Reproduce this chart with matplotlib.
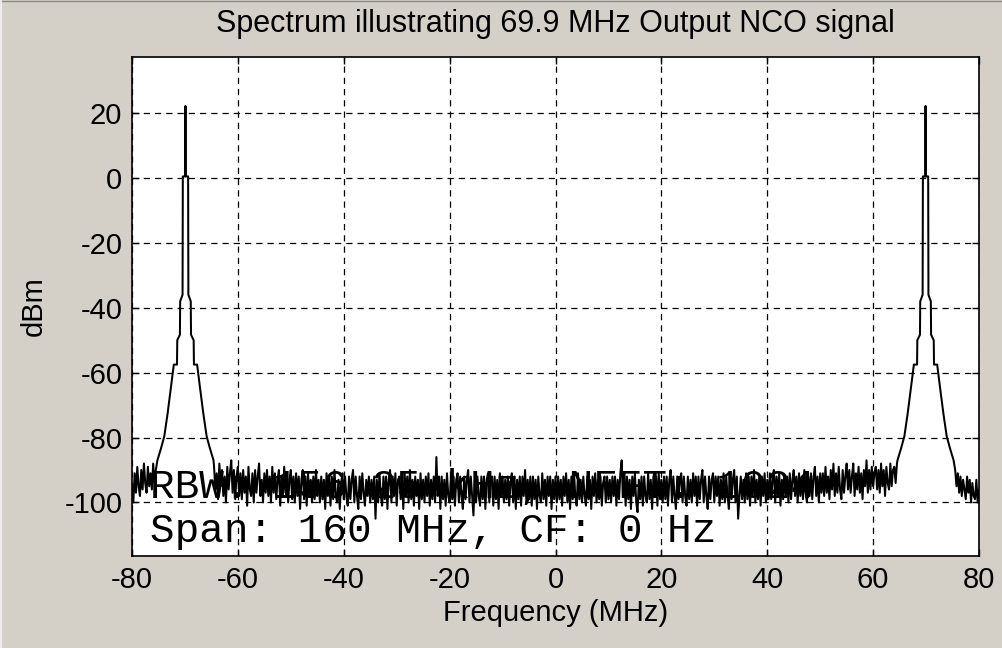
import numpy as np
import matplotlib
matplotlib.use('Agg')
import matplotlib.pyplot as plt
from matplotlib.lines import Line2D

# spectrum (dBm)
nco_freq = 69.9
peak_db = 22.2

# skirt of each tone: offset from tone (MHz, outer -> inner) and level (dBm)
skirt_off = [5.3, 4.6, 4.0, 3.4, 2.75, 2.2, 1.6, 1.55, 1.05, 1.0, 0.55, 0.5, 0.03]
skirt_db = [-87, -83.2, -79.6, -72.9, -64.7, -57.5, -57.5, -50, -48.3, -38, -36, 0.5, 0.5]

# noise floor left of the -69.9 MHz tone (-80 .. -75.5 MHz, 0.25 MHz steps)
noise_left = [-95, -100, -91, -97, -89, -95, -98, -90, -96, -88,
              -94, -97, -89, -95, -91, -96, -88, -94, -90]

# noise floor between the tones (-64.5 .. 64.5 MHz, 0.25 MHz steps)
noise_mid = [
    -89, -96, -91, -99, -88, -95, -90, -98, -92, -100, -89, -96, -91, -87, -97, -90, -99, -92, -89, -98,
    -91, -99, -90, -97, -92, -101, -89, -96, -98, -91, -100, -90, -97, -92, -88, -98, -93, -100, -91, -97,
    -90, -98, -92, -100, -89, -97, -91, -99, -93, -90, -101, -92, -98, -89, -97, -91, -100, -93, -90, -99,
    -92, -100, -91, -98, -92, -102, -93, -90, -99, -92, -101, -91, -98, -93, -100, -92, -99, -90, -98, -93,
    -100, -92, -99, -93, -102, -91, -98, -92, -101, -92, -99, -90, -98, -100, -93, -102, -94, -91, -99, -92,
    -98, -101, -92, -99, -93, -90, -100, -92, -98, -102, -92, -99, -91, -97, -101, -93, -98, -92, -100, -93,
    -99, -92, -105, -93, -100, -91, -98, -101, -92, -99, -92, -102, -93, -90, -100, -92, -98, -91, -101, -93,
    -92, -99, -93, -102, -91, -98, -92, -100, -90, -99, -93, -101, -92, -98, -93, -102, -91, -99, -93, -100,
    -92, -98, -91, -101, -93, -99, -92, -100, -86, -98, -92, -102, -92, -99, -93, -101, -91, -98, -100, -92,
    -99, -92, -101, -93, -91, -100, -92, -98, -102, -92, -99, -93, -90, -100, -92, -98, -104, -93, -100, -92,
    -98, -101, -92, -99, -92, -102, -93, -91, -100, -93, -92, -101, -92, -99, -93, -102, -91, -98, -92, -100,
    -93, -99, -92, -101, -94, -91, -100, -92, -102, -93, -99, -92, -101, -92, -98, -90, -100, -93, -99, -92,
    -101, -92, -99, -93, -102, -92, -98, -100, -91, -99, -93, -101, -92, -98, -92, -102, -93, -99, -92, -100,
    -92, -99, -93, -101, -92, -98, -91, -100, -93, -102, -92, -99, -92, -98, -101, -91, -99, -93, -100, -92,
    -98, -101, -92, -99, -93, -102, -92, -98, -91, -100, -93, -99, -92, -101, -94, -92, -100, -92, -99, -93,
    -100, -92, -98, -92, -101, -93, -99, -91, -87, -98, -92, -101, -92, -99, -93, -102, -92, -98, -91, -100,
    -103, -93, -99, -92, -101, -92, -98, -100, -91, -99, -93, -102, -92, -98, -92, -101, -91, -99, -93, -100,
    -92, -99, -92, -101, -93, -90, -100, -92, -98, -102, -92, -99, -93, -91, -100, -92, -98, -101, -92, -99,
    -93, -100, -91, -98, -92, -101, -92, -99, -93, -90, -100, -92, -98, -102, -92, -99, -93, -91, -100, -92,
    -98, -92, -101, -93, -99, -91, -100, -92, -98, -102, -92, -99, -93, -90, -100, -92, -105, -98, -92, -99,
    -93, -100, -91, -99, -92, -101, -92, -98, -90, -100, -93, -99, -92, -101, -92, -98, -91, -100, -93, -99,
    -91, -99, -93, -90, -100, -92, -98, -91, -101, -93, -99, -92, -98, -92, -100, -91, -99, -93, -90, -98,
    -92, -100, -91, -98, -92, -99, -90, -97, -100, -92, -98, -91, -99, -92, -89, -98, -92, -100, -91, -97,
    -91, -98, -89, -97, -92, -99, -90, -96, -88, -98, -91, -97, -89, -96, -99, -90, -97, -92, -88, -96,
    -90, -97, -92, -88, -98, -91, -96, -89, -97, -91, -99, -90, -95, -87, -97, -90, -96, -89, -95, -91,
    -89, -96, -90, -97, -88, -95, -90, -98, -89, -94, -96, -88, -95, -90, -89, -94, -88]

# noise floor right of the +69.9 MHz tone (75.5 .. 80 MHz, 0.25 MHz steps)
noise_right = [-90, -95, -91, -97, -92, -98, -93, -96, -99, -92,
               -97, -93, -100, -94, -98, -99, -93, -100, -96]

x_ticks = [-80, -60, -40, -20, 0, 20, 40, 60, 80]
y_ticks = [-100, -80, -60, -40, -20, 0, 20]

BG = '#d4d0c8'


def tone(center):
    off = np.array(skirt_off)
    f = np.concatenate([center - off, [center], center + off[::-1]])
    p = np.concatenate([skirt_db, [peak_db], skirt_db[::-1]])
    return f, p


f_l, p_l = tone(-nco_freq)
f_r, p_r = tone(nco_freq)
freq = np.concatenate([np.linspace(-80, -75.5, len(noise_left)), f_l,
                       np.linspace(-64.5, 64.5, len(noise_mid)), f_r,
                       np.linspace(75.5, 80, len(noise_right))])
power = np.concatenate([noise_left, p_l, noise_mid, p_r, noise_right])

plt.rcParams['font.family'] = ['Liberation Sans', 'DejaVu Sans']
plt.rcParams['axes.unicode_minus'] = False

fig = plt.figure(figsize=(10.02, 6.48), dpi=100, facecolor=BG)
# window frame lines at top and left edge
fig.add_artist(Line2D([0, 1], [1 - 1 / 648, 1 - 1 / 648], color='#8a8a8a', lw=1.0))
fig.add_artist(Line2D([1 / 1002, 1 / 1002], [0, 1], color='#f4f4f4', lw=1.2))

ax = fig.add_axes([132 / 1002, 1 - 556 / 648, 847 / 1002, 499 / 648])
ax.set_facecolor('white')

ax.plot(freq, power, color='black', lw=1.45, zorder=3)

ax.set_xlim(-80, 80)
ax.set_ylim(-116.5, 37.3)
ax.set_xticks(x_ticks)
ax.set_yticks(y_ticks)
ax.grid(True, color='black', lw=0.9, linestyle=(0, (5, 4)))
ax.tick_params(direction='in', top=True, right=True, length=5, width=1,
               labelsize=21, pad=7)
for s in ax.spines.values():
    s.set_linewidth(1.2)

ax.set_title('Spectrum illustrating 69.9 MHz Output NCO signal', fontsize=22, pad=18)
ax.set_xlabel('Frequency (MHz)', fontsize=21, labelpad=4)
ax.set_ylabel('dBm', fontsize=21, labelpad=12)

ax.text(0.021, 0.116, 'RBW: 156.25 kHz, NFFT: 1024', transform=ax.transAxes,
        family='Liberation Mono', fontsize=29.5, va='baseline', zorder=2)
ax.text(0.021, 0.028, 'Span: 160 MHz, CF: 0 Hz', transform=ax.transAxes,
        family='Liberation Mono', fontsize=29.5, va='baseline', zorder=2)

plt.savefig('out.png', dpi=100, facecolor=BG)
